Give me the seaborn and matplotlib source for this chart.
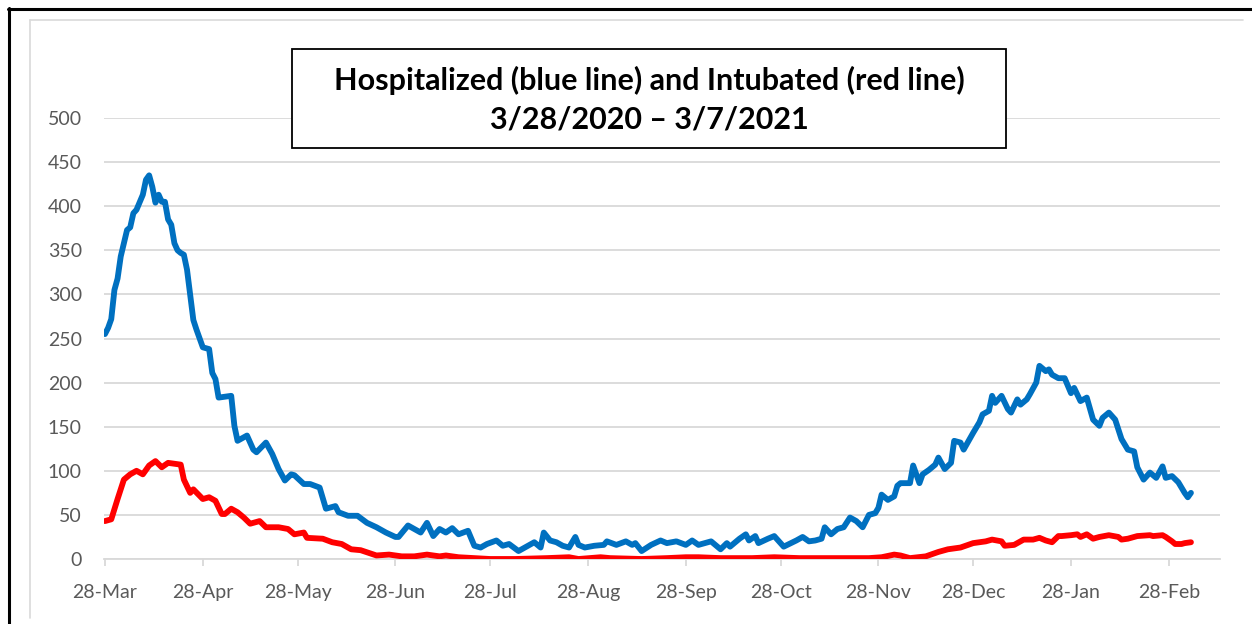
import pandas as pd
import matplotlib.pyplot as plt
import seaborn as sns
from matplotlib.lines import Line2D
from matplotlib.patches import Rectangle

# Values (days after 3/28/2020)
start = pd.Timestamp("2020-03-28")

hosp_day = [0, 1, 2, 3, 4, 5, 6, 7, 8, 9, 10, 12, 13, 14, 15, 16, 17, 18, 19, 20,
            21, 22, 23, 24, 25, 26, 28, 29, 31, 33, 34, 35, 36, 40, 41, 42, 45, 47, 48, 51,
            53, 55, 57, 59, 60, 63, 65, 68, 70, 73, 74, 77, 80, 83, 86, 87, 89, 92, 93, 96,
            98, 100, 102, 104, 106, 108, 110, 112, 115, 117, 119, 121, 124, 126, 128, 131, 134, 136, 138, 139,
            141, 143, 145, 147, 149, 150, 152, 155, 158, 159, 162, 165, 167, 168, 170, 173, 176, 178, 181, 184,
            186, 188, 192, 195, 197, 198, 201, 203, 204, 206, 207, 210, 212, 215, 219, 221, 223, 225, 227, 228,
            230, 232, 234, 236, 238, 240, 242, 244, 245, 246, 248, 250, 251, 252, 255, 256, 258, 259, 261, 263,
            264, 266, 268, 269, 271, 272, 275, 277, 278, 280, 281, 282, 284, 286, 287, 289, 290, 292, 293, 295,
            296, 297, 298, 299, 300, 302, 304, 306, 307, 309, 311, 313, 315, 316, 318, 320, 322, 324, 326, 327,
            329, 331, 333, 335, 336, 338, 340, 342, 343, 344]
hosp_val = [255, 262, 272, 305, 318, 343, 358, 373, 376, 392, 396, 413, 430, 435, 422, 404, 413, 405, 405, 385,
            379, 358, 350, 347, 345, 328, 271, 260, 240, 238, 211, 204, 183, 185, 151, 134, 140, 124, 121, 132,
            119, 102, 89, 96, 95, 85, 85, 81, 57, 60, 53, 49, 49, 41, 36, 34, 30, 25, 25, 38,
            34, 30, 41, 26, 34, 30, 35, 28, 32, 15, 13, 17, 21, 15, 17, 9, 15, 19, 13, 30,
            21, 19, 15, 13, 25, 16, 13, 15, 16, 20, 16, 20, 16, 18, 9, 16, 21, 18, 20, 16,
            21, 16, 20, 11, 18, 14, 23, 28, 21, 26, 18, 23, 26, 14, 21, 25, 20, 21, 23, 36,
            28, 34, 36, 47, 43, 36, 50, 52, 58, 73, 67, 71, 83, 86, 86, 106, 86, 96, 101, 107,
            115, 102, 109, 134, 132, 124, 143, 155, 164, 168, 185, 177, 185, 170, 166, 181, 175, 181, 187, 200,
            219, 216, 213, 215, 209, 205, 205, 188, 194, 179, 183, 158, 151, 160, 166, 158, 136, 124, 122, 104,
            90, 98, 92, 105, 92, 94, 87, 75, 70, 75]

intub_day = [0, 2, 4, 6, 8, 10, 12, 14, 16, 18, 20, 22, 24, 25, 27, 28, 31, 33, 35, 37,
             38, 40, 42, 44, 46, 49, 51, 55, 58, 60, 63, 64, 69, 72, 75, 78, 81, 86, 90, 94,
             98, 102, 106, 108, 112, 117, 122, 130, 140, 147, 150, 157, 160, 170, 178, 184, 188, 195, 205, 212,
             220, 228, 236, 242, 246, 250, 252, 255, 260, 264, 267, 271, 275, 279, 281, 284, 285, 288, 291, 294,
             296, 298, 300, 302, 303, 306, 308, 309, 311, 313, 315, 318, 321, 322, 324, 327, 331, 332, 335, 336,
             338, 339, 341, 342, 344]
intub_val = [43, 45, 68, 90, 96, 100, 96, 106, 111, 104, 109, 108, 107, 90, 75, 79, 68, 70, 66, 51,
             51, 57, 53, 47, 40, 43, 36, 36, 34, 28, 30, 24, 23, 19, 17, 11, 10, 4, 5, 3,
             3, 5, 3, 4, 2, 1, 0, 0, 1, 2, 0, 2, 1, 0, 1, 2, 2, 1, 1, 2,
             1, 1, 1, 1, 2, 5, 4, 1, 3, 8, 11, 13, 18, 20, 22, 20, 15, 16, 22, 22,
             24, 21, 19, 26, 26, 27, 28, 25, 28, 23, 25, 27, 25, 22, 23, 26, 27, 26, 27, 25,
             20, 17, 17, 18, 19]

month_ticks = [start + pd.DateOffset(months=i) for i in range(12)]

hosp = pd.DataFrame({"date": start + pd.to_timedelta(hosp_day, unit="D"), "value": hosp_val})
intub = pd.DataFrame({"date": start + pd.to_timedelta(intub_day, unit="D"), "value": intub_val})

sns.set_theme(style="white")
plt.rcParams["font.family"] = ["Lato", "DejaVu Sans"]

fig = plt.figure(figsize=(12.52, 6.24), dpi=100)
ax = fig.add_axes([104 / 1252, 1 - 559 / 624, (1220 - 104) / 1252, (559 - 118) / 624])

sns.lineplot(data=hosp, x="date", y="value", ax=ax, color="#0070C0", linewidth=4.2,
             solid_joinstyle="round", solid_capstyle="round", zorder=3)
sns.lineplot(data=intub, x="date", y="value", ax=ax, color="#FF0000", linewidth=4.2,
             solid_joinstyle="round", solid_capstyle="round", zorder=4)

grid_col = "#D9D9D9"
ax.set_ylim(0, 500)
ax.set_yticks(range(0, 501, 50))
ax.set_xlim(start - pd.Timedelta(days=0.3), start + pd.Timedelta(days=353.2))
ax.set_xticks(month_ticks)
ax.set_xticklabels([d.strftime("%d-%b") for d in month_ticks])
ax.yaxis.grid(True, color=grid_col, linewidth=1.3)
ax.set_axisbelow(True)
for side in ["left", "right", "top"]:
    ax.spines[side].set_visible(False)
ax.spines["bottom"].set_color(grid_col)
ax.spines["bottom"].set_linewidth(1.3)
ax.spines["bottom"].set_zorder(1)
ax.tick_params(axis="x", bottom=True, length=5, width=1.3, color=grid_col, pad=13,
               labelsize=14, labelcolor="#595959")
ax.tick_params(axis="y", left=False, pad=10, labelsize=14, labelcolor="#595959")
ax.set_xlabel("")
ax.set_ylabel("")

# outer frame lines
fig.add_artist(Line2D([8 / 1252, 1], [1 - 8.5 / 624] * 2, transform=fig.transFigure,
                      color="black", linewidth=2.2))
fig.add_artist(Line2D([8.5 / 1252] * 2, [0, 1 - 8 / 624], transform=fig.transFigure,
                      color="black", linewidth=2.2))
fig.add_artist(Line2D([30 / 1252, 1243 / 1252], [1 - 20 / 624] * 2, transform=fig.transFigure,
                      color=grid_col, linewidth=1.2))
fig.add_artist(Line2D([30 / 1252] * 2, [1 - 618 / 624, 1 - 20 / 624], transform=fig.transFigure,
                      color=grid_col, linewidth=1.2))

# title box
fig.add_artist(Rectangle((292 / 1252, 1 - 148 / 624), 714 / 1252, 99 / 624,
                         transform=fig.transFigure, facecolor="white", edgecolor="black",
                         linewidth=1.3, zorder=5))
fig.text(649 / 1252, 1 - 80 / 624, "Hospitalized (blue line) and Intubated (red line)",
         ha="center", va="center", fontsize=22, fontweight="bold", color="black", zorder=6)
fig.text(649 / 1252, 1 - 119 / 624, "3/28/2020 \u2013 3/7/2021",
         ha="center", va="center", fontsize=22, fontweight="bold", color="black", zorder=6)

fig.savefig("out.png", dpi=100)
